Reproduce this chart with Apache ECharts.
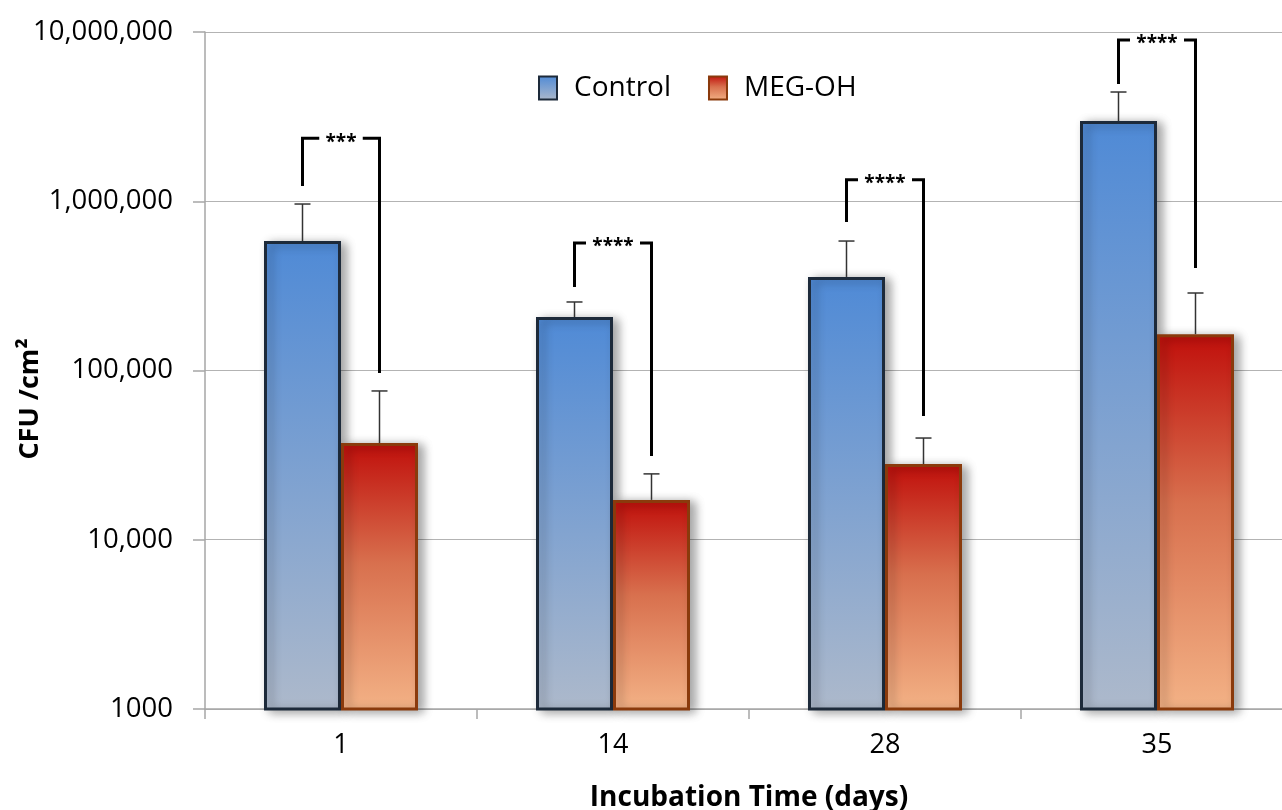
<!DOCTYPE html>
<html><head><meta charset="utf-8">
<script src="https://cdn.jsdelivr.net/npm/echarts@6/dist/echarts.min.js"></script>
<style>html,body{margin:0;padding:0;background:#fff;overflow:hidden}#c{width:1282px;height:810px}</style>
</head><body><div id="c"></div>
<script>
const categories = ['1', '14', '28', '35'];
const controlValues = [582000, 207000, 357000, 2980000];
const controlErrTop = [963000, 254000, 582000, 4420000];
const megValues = [37300, 17200, 28000, 164000];
const megErrTop = [75700, 24500, 39900, 287000];
// significance brackets: top, left leg bottom, right leg bottom
const bracketTop = [2360000, 567000, 1340000, 8970000];
const bracketLeftBottom = [1230000, 311000, 754000, 4930000];
const bracketRightBottom = [96700, 31200, 53900, 403000];
const bracketStars = ['***', '****', '****', '****'];
const yTicks = [1000, 10000, 100000, 1000000, 10000000];

const FONT = '"Open Sans", "Liberation Sans", sans-serif';
const BAR_W = 77;

const chart = echarts.init(document.getElementById('c'));

const ctrlFill = new echarts.graphic.LinearGradient(0, 0, 0, 1, [
  {offset: 0, color: '#4f8ad6'}, {offset: 1, color: '#adb9cb'}]);
const megFill = new echarts.graphic.LinearGradient(0, 0, 0, 1, [
  {offset: 0, color: '#c00f0b'}, {offset: 0.45, color: '#d8704e'}, {offset: 1, color: '#f3b286'}]);

function errRender(offsetSign) {
  return function (params, api) {
    const i = api.value(0);
    const base = api.coord([i, api.value(1)]);
    const top = api.coord([i, api.value(2)]);
    const x = base[0] + offsetSign * BAR_W / 2;
    return {
      type: 'group',
      children: [
        {type: 'line', shape: {x1: x, y1: base[1], x2: x, y2: top[1]}, style: {stroke: '#333', lineWidth: 1.5}},
        {type: 'line', shape: {x1: x - 8, y1: top[1], x2: x + 8, y2: top[1]}, style: {stroke: '#333', lineWidth: 1.5}}
      ]
    };
  };
}

function bracketRender(params, api) {
  const i = api.value(0);
  const t = api.coord([i, api.value(1)]);
  const lb = api.coord([i, api.value(2)]);
  const rb = api.coord([i, api.value(3)]);
  const xl = t[0] - BAR_W / 2;
  const xr = t[0] + BAR_W / 2;
  const stars = bracketStars[params.dataIndex];
  const gap = stars.length * 10.5 + 12;
  const xm = (xl + xr) / 2;
  const st = {stroke: '#000', lineWidth: 3, fill: null, lineJoin: 'miter'};
  return {
    type: 'group',
    children: [
      {type: 'polyline', shape: {points: [[xl, lb[1]], [xl, t[1]], [xm - gap / 2, t[1]]]}, style: st},
      {type: 'polyline', shape: {points: [[xm + gap / 2, t[1]], [xr, t[1]], [xr, rb[1]]]}, style: st},
      {type: 'text', x: xm, y: t[1] + 4, style: {text: stars, fill: '#000', font: 'bold 19px ' + FONT, align: 'center', verticalAlign: 'middle'}}
    ]
  };
}

chart.setOption({
  animation: false,
  backgroundColor: '#fff',
  grid: {left: 205, top: 32, bottom: 101, width: 1088, outerBoundsMode: 'none', containLabel: false},
  legend: {
    left: 533, top: 69, itemWidth: 18, itemHeight: 23, itemGap: 37,
    data: ['Control', 'MEG-OH'],
    textStyle: {fontFamily: FONT, fontSize: 28, color: '#000', padding: [0, 0, 0, 12]},
    icon: 'rect'
  },
  graphic: [{
    type: 'text', x: 30, y: 399, rotation: Math.PI / 2,
    style: {text: 'CFU /cm²', font: 'bold 27px ' + FONT, fill: '#000', align: 'center', verticalAlign: 'middle'}
  }],
  xAxis: {
    type: 'category', data: categories,
    axisLine: {lineStyle: {color: '#a6a6a6', width: 1.5}},
    axisTick: {show: true, length: 10, lineStyle: {color: '#a6a6a6', width: 1.5}},
    axisLabel: {fontFamily: FONT, fontSize: 27, color: '#000', margin: 23},
    name: 'Incubation Time (days)', nameLocation: 'middle', nameGap: 75,
    nameTextStyle: {fontFamily: FONT, fontSize: 28, fontWeight: 'bold', color: '#000'}
  },
  yAxis: {
    type: 'log', logBase: 10, min: 1000, max: 10000000,
    axisLine: {show: true, lineStyle: {color: '#a6a6a6', width: 1.5}},
    axisTick: {show: true, length: 12, lineStyle: {color: '#a6a6a6', width: 1.5}},
    splitLine: {lineStyle: {color: '#b3b3b3', width: 1.2}},
    axisLabel: {
      fontFamily: FONT, fontSize: 27.5, color: '#000', margin: 32,
      formatter: function (v) {
        const r = yTicks.find(t => Math.abs(t - v) / t < 1e-6);
        if (r === undefined) return '';
        return r === 1000 ? '1000' : r.toLocaleString('en-US');
      }
    }
  },
  series: [
    {
      name: 'Control', type: 'bar', barWidth: BAR_W, barGap: '0%',
      data: controlValues,
      itemStyle: {color: ctrlFill, borderColor: '#1d2a3a', borderWidth: 3,
        shadowBlur: 10, shadowOffsetX: 5, shadowOffsetY: 2, shadowColor: 'rgba(0,0,0,0.35)'},
      z: 2
    },
    {
      name: 'MEG-OH', type: 'bar', barWidth: BAR_W, barGap: '0%',
      data: megValues,
      itemStyle: {color: megFill, borderColor: '#8a3a0c', borderWidth: 3,
        shadowBlur: 10, shadowOffsetX: 5, shadowOffsetY: 2, shadowColor: 'rgba(0,0,0,0.35)'},
      z: 2
    },
    {
      type: 'custom', renderItem: errRender(-1), z: 3, silent: true,
      data: controlValues.map((v, i) => [i, v, controlErrTop[i]])
    },
    {
      type: 'custom', renderItem: errRender(1), z: 3, silent: true,
      data: megValues.map((v, i) => [i, v, megErrTop[i]])
    },
    {
      type: 'custom', renderItem: bracketRender, z: 4, silent: true,
      data: bracketTop.map((v, i) => [i, v, bracketLeftBottom[i], bracketRightBottom[i]])
    }
  ]
});
</script></body></html>
